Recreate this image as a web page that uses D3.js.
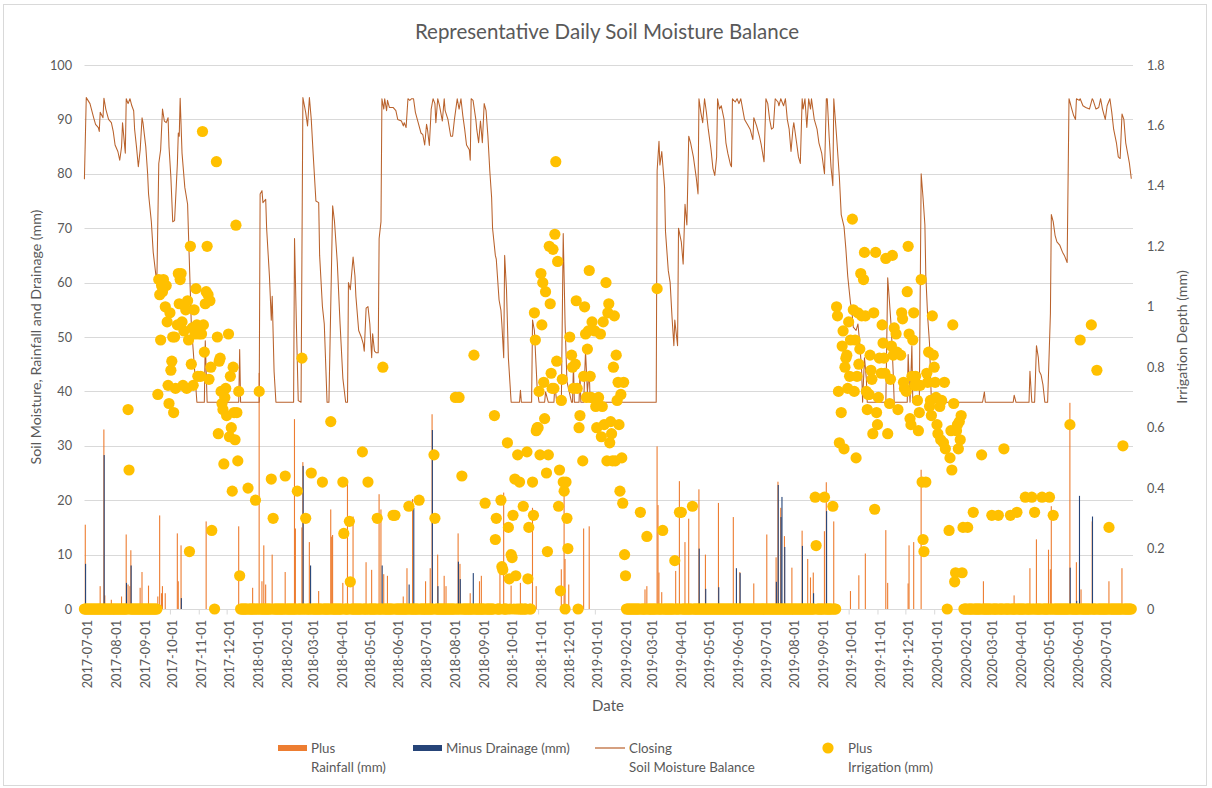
<!DOCTYPE html>
<html><head><meta charset="utf-8">
<script src="https://cdn.jsdelivr.net/npm/d3@7"></script>
<style>
body{margin:0;background:#fff;}
svg text{font-family:Lato,"Open Sans",sans-serif;fill:#595959;}
</style></head><body>
<svg id="chart" width="1212" height="788"></svg>
<script>
// ---------------- DATA ----------------
const chartTitle = "Representative Daily Soil Moisture Balance";
const leftAxisTitle = "Soil Moisture, Rainfall and Drainage (mm)";
const rightAxisTitle = "Irrigation Depth (mm)";
const xAxisTitle = "Date";
const leftTicks = [0,10,20,30,40,50,60,70,80,90,100];
const rightTicks = [0,0.2,0.4,0.6,0.8,1,1.2,1.4,1.6,1.8];
const dateTicks = ["2017-07-01","2017-08-01","2017-09-01","2017-10-01","2017-11-01","2017-12-01",
"2018-01-01","2018-02-01","2018-03-01","2018-04-01","2018-05-01","2018-06-01","2018-07-01","2018-08-01","2018-09-01","2018-10-01","2018-11-01","2018-12-01",
"2019-01-01","2019-02-01","2019-03-01","2019-04-01","2019-05-01","2019-06-01","2019-07-01","2019-08-01","2019-09-01","2019-10-01","2019-11-01","2019-12-01",
"2020-01-01","2020-02-01","2020-03-01","2020-04-01","2020-05-01","2020-06-01","2020-07-01"];
const dateDomain = ["2017-07-01","2020-07-31"];

// Closing soil moisture balance (mm), [date, value]
const soilMoisture = [
["2017-07-01",79],["2017-07-03",94],["2017-07-07",92.9],["2017-07-11",90.3],["2017-07-13",89.1],["2017-07-16",88.5],["2017-07-17",87.8],["2017-07-18",91.3],["2017-07-21",90.3],["2017-07-22",93.9],["2017-07-24",91.9],["2017-07-27",90],["2017-07-30",89.4],
["2017-08-01",87.8],["2017-08-03",85.3],["2017-08-06",84.1],["2017-08-08",82.5],["2017-08-10",85],["2017-08-11",89.4],["2017-08-14",83.8],["2017-08-15",93.8],["2017-08-17",92.9],["2017-08-19",93.8],["2017-08-21",92.5],["2017-08-23",91.6],["2017-08-24",88.2],["2017-08-26",85],["2017-08-28",81.3],["2017-08-30",84.4],
["2017-09-01",90.3],["2017-09-02",89.4],["2017-09-05",85],["2017-09-07",80],["2017-09-08",76.3],["2017-09-11",71.2],["2017-09-13",65.6],["2017-09-16",61.2],["2017-09-17",60.9],["2017-09-19",81.9],["2017-09-21",84.4],["2017-09-23",91.9],["2017-09-25",89.7],["2017-09-27",89.4],["2017-09-29",90.3],["2017-09-30",85],
["2017-10-02",79.4],["2017-10-04",71.2],["2017-10-06",71.4],["2017-10-09",81.9],["2017-10-10",87.5],["2017-10-11",86.9],["2017-10-12",93.9],["2017-10-14",83.8],["2017-10-17",77.5],["2017-10-20",74.4],["2017-10-21",68.7],["2017-10-24",52.4],["2017-10-30",38],
["2017-11-07",38],["2017-11-08",49.3],["2017-11-10",38],["2017-12-14",38],["2017-12-15",47.7],["2017-12-16",38],
["2018-01-05",38],["2018-01-06",76.3],["2018-01-08",76.9],["2018-01-09",74.7],["2018-01-12",75.3],["2018-01-13",70],["2018-01-16",61.2],["2018-01-18",53.1],["2018-01-19",57.5],["2018-01-21",43.7],["2018-01-23",38],
["2018-02-11",38],["2018-02-12",68.1],["2018-02-14",52.4],["2018-02-16",38.3],["2018-02-19",38],["2018-02-21",94],["2018-02-24",91.3],["2018-02-26",88.8],["2018-02-28",94],
["2018-03-02",90],["2018-03-04",83.8],["2018-03-07",75],["2018-03-10",74.7],["2018-03-11",65],["2018-03-14",55.6],["2018-03-16",52.4],["2018-03-19",38],["2018-03-21",38],["2018-03-25",74.1],["2018-03-27",71.2],["2018-03-30",63.7],
["2018-04-02",52.4],["2018-04-05",42.4],["2018-04-08",38],["2018-04-10",38],["2018-04-11",60],["2018-04-13",58.7],["2018-04-16",64.7],["2018-04-18",61.2],["2018-04-19",57.5],["2018-04-22",51.2],["2018-04-25",49.9],["2018-04-27",48.7],["2018-04-28",47.4],["2018-04-30",55.3],
["2018-05-02",55.6],["2018-05-04",52.4],["2018-05-06",46.2],["2018-05-07",50.6],["2018-05-09",47.4],["2018-05-11",47.1],["2018-05-13",47.1],["2018-05-14",68.1],["2018-05-16",71.2],["2018-05-17",93.8],["2018-05-19",91.9],["2018-05-20",93.8],["2018-05-22",91.6],["2018-05-23",93.5],["2018-05-25",92.2],["2018-05-29",92.2],
["2018-06-01",91.6],["2018-06-03",90],["2018-06-07",89.7],["2018-06-09",88.8],["2018-06-10",89.4],["2018-06-12",88.5],["2018-06-14",93.8],["2018-06-16",93.5],["2018-06-18",93.8],["2018-06-20",93.8],["2018-06-22",91.3],["2018-06-25",89.4],["2018-06-28",87.5],["2018-06-30",87.2],
["2018-07-02",85.3],["2018-07-04",89.1],["2018-07-05",88.2],["2018-07-07",85.2],["2018-07-09",91.9],["2018-07-11",93.8],["2018-07-13",92.9],["2018-07-14",89.4],["2018-07-16",93.8],["2018-07-18",92.5],["2018-07-21",89.7],["2018-07-23",93.8],["2018-07-24",91.6],["2018-07-27",90],["2018-07-30",86.9],
["2018-08-01",86.9],["2018-08-03",90],["2018-08-06",93.8],["2018-08-08",91.9],["2018-08-10",93.8],["2018-08-12",90.7],["2018-08-14",88.2],["2018-08-16",85.3],["2018-08-19",84.4],["2018-08-20",82.5],["2018-08-21",93.8],["2018-08-23",93.5],["2018-08-26",90],["2018-08-27",88.2],["2018-08-29",85.7],["2018-08-31",89.7],
["2018-09-02",85.7],["2018-09-04",92.9],["2018-09-06",91.6],["2018-09-08",86.9],["2018-09-10",80.6],["2018-09-12",75.6],["2018-09-13",70],["2018-09-16",65],["2018-09-17",64.3],["2018-09-20",56.8],["2018-09-22",54.9],["2018-09-23",52.4],["2018-09-25",46.2],["2018-09-26",65],["2018-09-28",58.7],["2018-09-30",46.2],
["2018-10-03",38],["2018-10-12",38],["2018-10-13",40.2],["2018-10-14",38],["2018-10-25",38],["2018-10-26",53.1],["2018-10-28",51.2],["2018-10-31",40.5],
["2018-11-02",38],["2018-11-08",38],["2018-11-09",39.9],["2018-11-12",38],["2018-11-18",38],["2018-11-19",41.2],["2018-11-21",38],["2018-11-26",38],["2018-11-28",69],["2018-11-30",52.4],
["2018-12-02",41.8],["2018-12-07",38],["2018-12-08",38],["2018-12-09",44.9],["2018-12-10",38],["2018-12-15",38],["2018-12-16",43],["2018-12-17",38],["2018-12-20",38],["2018-12-22",47.4],["2018-12-24",39.9],["2018-12-26",43.7],["2018-12-27",38],
["2019-03-08",38],["2019-03-09",80.6],["2019-03-11",86],["2019-03-12",81.6],["2019-03-14",84.1],["2019-03-17",77.5],["2019-03-18",69.4],["2019-03-21",62.2],["2019-03-23",60],["2019-03-25",53.7],["2019-03-27",48.4],["2019-03-28",53.1],["2019-03-31",48.4],
["2019-04-01",70],["2019-04-04",67.5],["2019-04-06",63.4],["2019-04-08",74.4],["2019-04-10",70.6],["2019-04-12",86.9],["2019-04-14",85.7],["2019-04-17",83.1],["2019-04-20",79.4],["2019-04-22",76.3],["2019-04-23",93.8],["2019-04-25",91.3],["2019-04-27",89.4],["2019-04-29",93.8],
["2019-05-01",91.3],["2019-05-03",88.2],["2019-05-06",84.4],["2019-05-08",81],["2019-05-10",79.7],["2019-05-12",83.1],["2019-05-13",93.8],["2019-05-15",91.9],["2019-05-17",92.5],["2019-05-20",90],["2019-05-22",85.7],["2019-05-24",83.8],["2019-05-27",81.6],["2019-05-28",81.3],["2019-05-29",93.8],
["2019-06-01",93.2],["2019-06-03",93.8],["2019-06-05",92.9],["2019-06-07",93.8],["2019-06-09",91.9],["2019-06-11",90],["2019-06-14",89.1],["2019-06-17",88.2],["2019-06-20",86.3],["2019-06-21",90.3],["2019-06-24",88.8],["2019-06-27",86.9],["2019-06-29",85.3],
["2019-07-02",82.2],["2019-07-04",93.8],["2019-07-06",92.9],["2019-07-08",90],["2019-07-10",88.2],["2019-07-12",88.5],["2019-07-14",93.8],["2019-07-17",93.2],["2019-07-18",92.5],["2019-07-20",93.8],["2019-07-23",92.5],["2019-07-25",93.8],["2019-07-27",90],["2019-07-29",88.2],["2019-07-31",84.1],
["2019-08-02",88.2],["2019-08-03",89.4],["2019-08-06",85.7],["2019-08-08",83.1],["2019-08-10",81.9],["2019-08-12",93.8],["2019-08-13",91.9],["2019-08-15",93.8],["2019-08-17",88.5],["2019-08-19",93.8],["2019-08-21",91.9],["2019-08-22",93.8],["2019-08-25",90],["2019-08-28",88.2],["2019-08-30",85.7],
["2019-09-02",83.8],["2019-09-05",80],["2019-09-07",93.8],["2019-09-08",93.8],["2019-09-10",86.9],["2019-09-12",81.3],["2019-09-14",77.8],["2019-09-15",93.8],["2019-09-18",86.9],["2019-09-21",79.4],["2019-09-23",72.5],["2019-09-26",70.3],["2019-09-28",66.2],["2019-09-30",61.2],
["2019-10-03",56.2],["2019-10-04",55.6],["2019-10-06",51.8],["2019-10-09",51.2],["2019-10-11",52.4],["2019-10-13",48.7],["2019-10-15",43.7],["2019-10-16",38],["2019-10-18",46.2],["2019-10-20",42.4],["2019-10-21",38],
["2019-11-10",38],["2019-11-12",60.9],["2019-11-14",56.2],["2019-11-16",51.2],["2019-11-18",43],["2019-11-19",38],
["2019-12-03",38],["2019-12-04",46.8],["2019-12-06",38],["2019-12-08",48.4],["2019-12-09",38],["2019-12-16",38],["2019-12-18",80],["2019-12-20",75.6],["2019-12-22",70.6],["2019-12-23",61.2],["2019-12-25",53.7],["2019-12-27",48.7],["2019-12-29",38],
["2020-02-22",38],["2020-02-24",39.9],["2020-02-25",38],["2020-03-26",38],["2020-03-27",39.3],["2020-03-29",38],
["2020-04-12",38],["2020-04-13",43.7],["2020-04-15",38],["2020-04-18",38],["2020-04-20",48.4],["2020-04-22",46.2],["2020-04-23",43.7],["2020-04-25",43],["2020-04-27",41.2],["2020-04-29",38],
["2020-05-02",38],["2020-05-05",54.3],["2020-05-06",72.5],["2020-05-08",71.2],["2020-05-10",68.7],["2020-05-12",67.5],["2020-05-15",66.9],["2020-05-18",65.6],["2020-05-20",65],["2020-05-23",63.7],["2020-05-25",93.8],["2020-05-26",93.2],["2020-05-28",91.9],["2020-05-30",90.7],
["2020-06-01",90],["2020-06-02",93.8],["2020-06-05",93.5],["2020-06-06",93.8],["2020-06-09",92.5],["2020-06-12",92.2],["2020-06-16",91.9],["2020-06-19",93.8],["2020-06-20",93.5],["2020-06-23",91.9],["2020-06-26",92.2],["2020-06-28",93.8],["2020-06-30",91.9],
["2020-07-03",90],["2020-07-05",92.5],["2020-07-08",93.8],["2020-07-10",91.3],["2020-07-12",88.2],["2020-07-15",85.7],["2020-07-17",83.1],["2020-07-19",82.8],["2020-07-21",91],["2020-07-23",90],["2020-07-25",85.7],["2020-07-27",83.8],["2020-07-29",81.9],["2020-07-31",79.1]
];

// Plus rainfall (mm), [date, value]
const rainfall = [
["2017-07-02",15.5],["2017-07-18",4.2],["2017-07-22",33],["2017-07-23",2.5],["2017-07-30",1.7],["2017-08-10",2.3],["2017-08-15",13.7],["2017-08-17",4.5],["2017-08-19",4.2],["2017-08-20",10.8],["2017-08-30",3.9],["2017-09-01",6.8],["2017-09-08",4.3],["2017-09-18",2.3],["2017-09-20",17.2],["2017-09-22",2.9],["2017-09-23",4.2],["2017-09-26",2.9],["2017-10-09",13.9],["2017-10-10",5.1],["2017-10-13",11.7],["2017-11-09",16.1],["2017-12-14",15.2],["2017-12-29",3.9],
["2018-01-05",43.4],["2018-01-08",5.1],["2018-01-10",11.7],["2018-01-12",4.5],["2018-01-19",10],["2018-02-02",6.8],["2018-02-12",34.9],["2018-02-13",14.8],["2018-02-20",15],["2018-02-21",27],["2018-02-28",12.3],["2018-03-10",3.3],["2018-03-23",18.3],["2018-03-24",13.3],["2018-03-25",13.6],["2018-04-05",4.8],["2018-04-10",23],["2018-04-16",17],["2018-04-30",8.6],["2018-05-06",7.2],["2018-05-14",21.1],["2018-05-16",18.3],["2018-05-19",6.4],["2018-05-23",6.1],["2018-06-09",2.3],["2018-06-13",7.5],["2018-06-19",20.2],["2018-07-03",5.1],["2018-07-08",7.5],["2018-07-10",35.8],["2018-07-16",10],["2018-07-23",6.1],["2018-07-25",4.2],["2018-08-07",13.9],["2018-08-09",8.3],["2018-08-20",2.9],["2018-08-30",5.1],["2018-09-01",6.1],["2018-09-21",8.6],["2018-09-25",21.4],["2018-10-03",4.3],["2018-10-13",4.8],["2018-10-26",18.6],["2018-10-30",4.2],["2018-11-26",7.3],["2018-11-29",23],["2018-11-30",9.2],["2018-12-04",4.5],["2018-12-20",14.8],["2018-12-26",15.2],
["2019-02-24",3.6],["2019-02-26",4.2],["2019-03-09",29.9],["2019-03-10",19.1],["2019-03-11",6.7],["2019-03-14",3.1],["2019-03-29",7],["2019-04-02",23.5],["2019-04-08",12.3],["2019-04-12",16.6],["2019-04-23",22],["2019-04-30",10],["2019-05-14",19.5],["2019-05-30",16.9],["2019-06-06",6.8],["2019-06-21",4.7],["2019-07-05",13.7],["2019-07-15",9.5],["2019-07-17",23.4],["2019-07-20",18.6],["2019-07-24",13.4],["2019-08-01",7.6],["2019-08-12",14.4],["2019-08-18",9.2],["2019-08-21",5.8],["2019-08-24",6.7],["2019-09-05",14.3],["2019-09-07",23.3],["2019-09-15",16.1],["2019-10-03",3.3],["2019-10-12",6.2],["2019-10-19",10.2],["2019-11-10",14.5],["2019-11-12",4.8],["2019-12-04",4.7],["2019-12-05",11.7],["2019-12-10",12.3],["2019-12-18",25.6],
["2020-02-23",5.1],["2020-03-27",2.5],["2020-04-13",7.5],["2020-04-20",12.8],["2020-05-03",10.9],["2020-05-05",7.3],["2020-05-06",18.9],["2020-05-26",37.9],["2020-06-02",8.6],["2020-06-07",3.6],["2020-06-19",16.1],["2020-07-07",5.1],["2020-07-21",7.5]
];

// Minus drainage (mm), [date, value]
const drainage = [
["2017-07-02",8.3],["2017-07-22",28.3],["2017-08-15",4.8],["2017-08-20",8],["2017-10-13",2],["2018-02-21",26.3],["2018-03-01",8],["2018-05-17",8],["2018-06-15",4.5],["2018-06-20",18.6],["2018-07-10",32.9],["2018-07-16",4.2],["2018-08-07",8.7],["2018-08-09",5.5],["2018-08-23",6.6],
["2019-04-23",11.1],["2019-04-30",3.7],["2019-05-14",4],["2019-06-02",7.5],["2019-06-06",6.6],["2019-07-15",5],["2019-07-17",22.8],["2019-07-20",16.9],["2019-07-21",20.6],["2019-07-24",11.4],["2019-08-12",11.6],["2019-08-24",2.9],["2019-09-07",18],
["2020-05-26",7.6],["2020-06-02",1.5],["2020-06-05",20.8],["2020-06-19",17]
];

// Plus irrigation (mm, right axis), [date, value] for days read individually
const irrigation = [
["2017-08-17",0.66],["2017-08-18",0.46],
["2017-09-18",0.71],["2017-09-19",1.09],["2017-09-20",1.04],["2017-09-21",0.89],["2017-09-22",1.07],["2017-09-23",1.05],["2017-09-24",1.09],["2017-09-26",1.00],["2017-09-27",1.07],["2017-09-28",0.95],["2017-09-29",0.74],["2017-09-30",0.68],
["2017-10-01",0.98],["2017-10-02",0.79],["2017-10-03",0.82],["2017-10-04",0.90],["2017-10-05",0.65],["2017-10-06",0.90],["2017-10-07",0.73],["2017-10-09",0.94],["2017-10-10",1.11],["2017-10-11",1.01],["2017-10-12",1.09],["2017-10-13",1.11],["2017-10-14",0.95],["2017-10-15",0.74],["2017-10-16",0.92],["2017-10-18",0.99],["2017-10-19",0.73],["2017-10-20",1.02],["2017-10-21",0.89],["2017-10-22",0.19],["2017-10-23",1.20],["2017-10-24",0.81],["2017-10-25",0.93],["2017-10-26",0.74],["2017-10-27",0.99],["2017-10-28",0.91],["2017-10-29",1.06],["2017-10-30",0.94],["2017-10-31",0.77],
["2017-11-01",0.91],["2017-11-02",0.93],["2017-11-03",0.77],["2017-11-04",0.91],["2017-11-05",1.58],["2017-11-06",0.94],["2017-11-07",0.85],["2017-11-08",1.01],["2017-11-09",1.05],["2017-11-10",1.20],["2017-11-11",1.04],["2017-11-12",0.76],["2017-11-13",1.02],["2017-11-14",0.80],["2017-11-15",0.26],["2017-11-18",0],["2017-11-20",1.48],["2017-11-21",0.90],["2017-11-22",0.58],["2017-11-23",0.82],["2017-11-24",0.83],["2017-11-25",0.72],["2017-11-26",0.68],["2017-11-27",0.66],["2017-11-28",0.48],["2017-11-29",0.70],["2017-11-30",0.73],
["2017-12-01",0.64],["2017-12-03",0.91],["2017-12-04",0.57],["2017-12-05",0.77],["2017-12-06",0.60],["2017-12-07",0.39],["2017-12-08",0.80],["2017-12-09",0.65],["2017-12-10",0.56],["2017-12-11",1.27],["2017-12-12",0.65],["2017-12-13",0.49],["2017-12-14",0.72],["2017-12-15",0.11],["2017-12-24",0.40],
["2018-01-01",0.36],["2018-01-05",0.72],["2018-01-18",0.43],["2018-01-20",0.30],["2018-02-02",0.44],["2018-02-15",0.39],["2018-02-20",0.83],["2018-02-24",0.30],["2018-03-02",0.45],["2018-03-14",0.42],["2018-03-23",0.62],["2018-04-05",0.42],["2018-04-06",0.25],["2018-04-12",0.29],["2018-04-13",0.09],["2018-04-26",0.52],["2018-05-02",0.42],["2018-05-12",0.30],["2018-05-18",0.80],["2018-05-29",0.31],["2018-05-31",0.31],["2018-06-15",0.34],["2018-06-26",0.36],["2018-07-12",0.51],["2018-07-13",0.30],["2018-08-04",0.70],["2018-08-08",0.70],["2018-08-11",0.44],["2018-08-24",0.84],["2018-09-05",0.35],["2018-09-15",0.64],["2018-09-16",0.23],["2018-09-17",0.30],["2018-09-22",0.36],["2018-09-23",0.14],["2018-09-24",0.13],["2018-09-29",0.55],["2018-09-30",0.27],
["2018-10-01",0.10],["2018-10-03",0.18],["2018-10-04",0.17],["2018-10-05",0.31],["2018-10-07",0.43],["2018-10-08",0.11],["2018-10-10",0.51],["2018-10-12",0.42],["2018-10-16",0.34],["2018-10-20",0.52],["2018-10-21",0.10],["2018-10-22",0.27],["2018-10-26",0.42],["2018-10-27",0.31],["2018-10-28",0.98],["2018-10-29",0.89],["2018-10-30",0.59],["2018-10-31",0.60],
["2018-11-01",0.60],["2018-11-02",0.72],["2018-11-03",0.51],["2018-11-04",1.11],["2018-11-05",0.94],["2018-11-06",1.08],["2018-11-07",0.75],["2018-11-08",0.63],["2018-11-09",1.05],["2018-11-10",0.45],["2018-11-11",0.19],["2018-11-12",0.51],["2018-11-13",1.20],["2018-11-14",1.01],["2018-11-15",0.78],["2018-11-16",0.73],["2018-11-17",1.19],["2018-11-18",0.73],["2018-11-19",1.24],["2018-11-20",1.48],["2018-11-21",0.82],["2018-11-22",1.15],["2018-11-23",0.34],["2018-11-24",0.46],["2018-11-25",0.06],["2018-11-26",0.69],["2018-11-27",0.76],["2018-11-28",0.42],["2018-11-29",0.39],["2018-11-30",0],
["2018-12-01",0.42],["2018-12-02",0.30],["2018-12-03",0.20],["2018-12-05",0.90],["2018-12-07",0.84],["2018-12-08",0.80],["2018-12-09",0.73],["2018-12-11",0.81],["2018-12-12",1.02],["2018-12-13",0.73],["2018-12-14",0],["2018-12-15",0.60],["2018-12-16",0.64],["2018-12-19",0.49],["2018-12-20",0.77],["2018-12-21",1.00],["2018-12-22",0.91],["2018-12-23",0.70],["2018-12-24",0.86],["2018-12-25",0.92],["2018-12-26",1.12],["2018-12-27",0.77],["2018-12-28",0.70],["2018-12-29",0.95],
["2019-01-01",0.92],["2019-01-02",0.67],["2019-01-03",0.60],["2019-01-05",0.70],["2019-01-07",0.91],["2019-01-08",0.57],["2019-01-09",0.67],["2019-01-10",0.95],["2019-01-11",0.61],["2019-01-13",1.08],["2019-01-14",0.49],["2019-01-15",0.98],["2019-01-16",1.01],["2019-01-17",0.55],["2019-01-18",0.62],["2019-01-19",0.58],["2019-01-20",0.49],["2019-01-21",0.80],["2019-01-22",0.97],["2019-01-23",0.49],["2019-01-24",0.84],["2019-01-25",0.69],["2019-01-26",0.75],["2019-01-27",0.61],["2019-01-28",0.39],["2019-01-29",0.71],["2019-01-30",0.50],["2019-01-31",0.35],["2019-02-01",0.75],["2019-02-02",0.18],["2019-02-03",0.11],
["2019-02-19",0.32],["2019-02-26",0.24],["2019-03-09",1.06],["2019-03-15",0.26],["2019-03-28",0.16],["2019-04-02",0.32],["2019-04-04",0.32],["2019-04-16",0.34],["2019-08-26",0.37],["2019-08-27",0.21],["2019-09-05",0.37],["2019-09-14",0.34],
["2019-09-18",1.00],["2019-09-19",0.97],["2019-09-20",0.72],["2019-09-21",0.55],["2019-09-23",0.65],["2019-09-24",0.87],["2019-09-25",0.92],["2019-09-26",0.53],["2019-09-27",0.80],["2019-09-28",0.83],["2019-09-29",0.84],["2019-09-30",0.73],
["2019-10-01",0.95],["2019-10-02",0.77],["2019-10-03",0.89],["2019-10-05",1.29],["2019-10-06",0.99],["2019-10-07",0.72],["2019-10-08",0.89],["2019-10-09",0.50],["2019-10-10",0.77],["2019-10-11",0.98],["2019-10-12",0.81],["2019-10-13",0.86],["2019-10-14",1.11],["2019-10-15",0.97],["2019-10-17",1.09],["2019-10-18",1.18],["2019-10-19",0.97],["2019-10-20",0.72],["2019-10-21",0.66],["2019-10-22",0.71],["2019-10-23",0.71],["2019-10-24",0.84],["2019-10-25",0.79],["2019-10-26",0.76],["2019-10-27",0.58],["2019-10-28",0.98],["2019-10-29",0.33],["2019-10-30",1.18],["2019-10-31",0.65],
["2019-11-01",0.61],["2019-11-02",0.70],["2019-11-03",0.83],["2019-11-05",0.78],["2019-11-06",0.94],["2019-11-07",0.88],["2019-11-08",0.83],["2019-11-09",0.78],["2019-11-10",1.16],["2019-11-12",0.58],["2019-11-14",0.68],["2019-11-15",0.76],["2019-11-16",0.87],["2019-11-17",1.17],["2019-11-18",0.84],["2019-11-19",0.93],["2019-11-21",0.91],["2019-11-22",0.85],["2019-11-23",0.66],["2019-11-26",0.84],["2019-11-27",0.98],["2019-11-28",0.96],["2019-11-29",0.75],["2019-11-30",0.73],
["2019-12-02",0.72],["2019-12-03",1.05],["2019-12-04",1.20],["2019-12-05",0.91],["2019-12-06",0.63],["2019-12-07",0.61],["2019-12-08",0.77],["2019-12-09",0.89],["2019-12-10",0.98],["2019-12-11",0.74],["2019-12-12",0.77],["2019-12-13",0.74],["2019-12-14",0.69],["2019-12-15",0.59],["2019-12-16",0.65],["2019-12-17",0.74],["2019-12-18",1.09],["2019-12-19",0.42],["2019-12-20",0.23],["2019-12-21",0.19],["2019-12-23",0.42],["2019-12-24",0.78],["2019-12-25",0.75],["2019-12-26",0.85],["2019-12-27",0.67],["2019-12-28",0.69],["2019-12-29",0.64],["2019-12-30",0.97],["2019-12-31",0.84],
["2020-01-01",0.80],["2020-01-02",0.75],["2020-01-03",0.70],["2020-01-04",0.61],["2020-01-05",0.58],["2020-01-07",0.67],["2020-01-08",0.56],["2020-01-09",0.69],["2020-01-11",0.55],["2020-01-12",0.75],["2020-01-13",0.53],["2020-01-15",0],["2020-01-17",0.26],["2020-01-18",0.50],["2020-01-19",0.59],["2020-01-20",0.46],["2020-01-21",0.94],["2020-01-22",0.68],["2020-01-23",0.09],["2020-01-24",0.12],["2020-01-25",0.59],["2020-01-26",0.61],["2020-01-27",0.53],["2020-01-28",0.62],["2020-01-29",0.56],["2020-01-30",0.64],["2020-01-31",0.12],
["2020-02-01",0.27],["2020-02-06",0.27],["2020-02-12",0.32],["2020-02-21",0.51],["2020-03-03",0.31],["2020-03-10",0.31],["2020-03-16",0.53],["2020-03-23",0.31],["2020-03-30",0.32],["2020-04-08",0.37],["2020-04-15",0.37],["2020-04-18",0.32],["2020-04-26",0.37],["2020-05-04",0.37],["2020-05-08",0.31],["2020-05-26",0.61],["2020-06-06",0.89],["2020-06-18",0.94],["2020-06-24",0.79],["2020-07-07",0.27],["2020-07-22",0.54]
];
// periods in which every other day had 0 mm irrigation
const irrigationZeroPeriods = [
["2017-07-01","2017-09-17"],["2017-12-14","2018-10-24"],["2019-02-01","2019-09-17"],["2020-01-30","2020-07-31"]
];

const legendItems = [
  {key:"rain", lines:["Plus","Rainfall (mm)"]},
  {key:"drain", lines:["Minus Drainage (mm)"]},
  {key:"line", lines:["Closing","Soil Moisture Balance"]},
  {key:"dot", lines:["Plus","Irrigation (mm)"]}
];

// ---------------- CHART ----------------
const colors = {rain:"#ED7D31", drain:"#264478", line:"#B9622C", dot:"#FFC000", grid:"#D9D9D9", text:"#595959"};
const parse = d3.utcParse("%Y-%m-%d");
const fmt = d3.utcFormat("%Y-%m-%d");
const svg = d3.select("#chart");

svg.append("rect").attr("x",3.5).attr("y",4.5).attr("width",1203).attr("height",781)
  .attr("fill","#fff").attr("stroke","#D9D9D9");

const x = d3.scaleUtc().domain(dateDomain.map(parse)).range([84.4,1131.3]);
const yL = d3.scaleLinear().domain([0,100]).range([609,65]);
const yR = d3.scaleLinear().domain([0,1.8]).range([609,65]);

// gridlines
svg.append("g").selectAll("line").data(leftTicks).join("line")
  .attr("x1",84.5).attr("x2",1133).attr("y1",d=>Math.round(yL(d))+0.5).attr("y2",d=>Math.round(yL(d))+0.5)
  .attr("stroke",colors.grid).attr("stroke-width",1);

// x axis
const xAxis = svg.append("g").attr("transform","translate(0,609.5)")
  .call(d3.axisBottom(x).tickValues(dateTicks.map(parse)).tickFormat(fmt).tickSize(5).tickSizeOuter(0));
xAxis.select(".domain").remove();
xAxis.selectAll(".tick line").attr("stroke",colors.grid);
xAxis.selectAll(".tick text").attr("transform","rotate(-90)").attr("x",-10.5).attr("y",0).attr("dy","0.55em")
  .style("text-anchor","end").style("font-size","12.7px").attr("fill",colors.text);

// left axis
const lAxis = svg.append("g").attr("transform","translate(85,0)")
  .call(d3.axisLeft(yL).tickValues(leftTicks).tickSize(0).tickPadding(13));
lAxis.select(".domain").remove();
lAxis.selectAll("text").style("font-size","12.7px").attr("fill",colors.text);

// right axis
const rAxis = svg.append("g").attr("transform","translate(1133,0)")
  .call(d3.axisRight(yR).tickValues(rightTicks).tickFormat(d=>String(d)).tickSize(0).tickPadding(14));
rAxis.select(".domain").remove();
rAxis.selectAll("text").style("font-size","12.7px").attr("fill",colors.text);

// bars
svg.append("g").selectAll("rect").data(rainfall).join("rect")
  .attr("x",d=>x(parse(d[0]))-0.6).attr("width",1.1)
  .attr("y",d=>yL(d[1])).attr("height",d=>yL(0)-yL(d[1]))
  .attr("fill",colors.rain);
svg.append("g").selectAll("rect").data(drainage).join("rect")
  .attr("x",d=>x(parse(d[0]))-0.3).attr("width",1.1)
  .attr("y",d=>yL(d[1])).attr("height",d=>yL(0)-yL(d[1]))
  .attr("fill",colors.drain);

// line
svg.append("path").datum(soilMoisture)
  .attr("d",d3.line().x(d=>x(parse(d[0]))).y(d=>yL(d[1])))
  .attr("fill","none").attr("stroke",colors.line).attr("stroke-width",1.05).attr("stroke-linejoin","round");

// irrigation points
const known = new Set(irrigation.map(d=>d[0]));
const irrPoints = [];
irrigationZeroPeriods.forEach(([a,b])=>{
  d3.utcDay.range(parse(a), d3.utcDay.offset(parse(b),1)).forEach(day=>{
    if(!known.has(fmt(day))) irrPoints.push([fmt(day),0]);
  });
});
irrigation.forEach(d=>irrPoints.push(d));
svg.append("g").selectAll("circle").data(irrPoints).join("circle")
  .attr("cx",d=>x(parse(d[0]))).attr("cy",d=>yR(d[1])).attr("r",5.6)
  .attr("fill",colors.dot);

// titles
svg.append("text").attr("x",607).attr("y",39).attr("text-anchor","middle")
  .style("font-size","20.5px").text(chartTitle);
svg.append("text").attr("transform","translate(40.5,337) rotate(-90)").attr("text-anchor","middle")
  .style("font-size","14.2px").text(leftAxisTitle);
svg.append("text").attr("transform","translate(1187,337) rotate(-90)").attr("text-anchor","middle")
  .style("font-size","14.2px").text(rightAxisTitle);
svg.append("text").attr("x",608).attr("y",711).attr("text-anchor","middle")
  .style("font-size","15px").text(xAxisTitle);

// legend
const legX = [278,413,595,822];
const leg = svg.append("g");
legendItems.forEach((it,i)=>{
  const g = leg.append("g").attr("transform",`translate(${legX[i]},748)`);
  let tx;
  if(it.key==="rain"||it.key==="drain"){
    g.append("rect").attr("x",0).attr("y",-3).attr("width",29).attr("height",6).attr("fill",colors[it.key]);
    tx = 33;
  } else if(it.key==="line"){
    g.append("line").attr("x1",0).attr("x2",30).attr("y1",0).attr("y2",0).attr("stroke",colors.line).attr("stroke-width",1.2);
    tx = 34;
  } else {
    g.append("circle").attr("cx",6).attr("cy",0).attr("r",5.6).attr("fill",colors.dot);
    tx = 26;
  }
  it.lines.forEach((t,j)=>{
    g.append("text").attr("x",tx).attr("y",4.5+j*19.5).style("font-size","13.3px").text(t);
  });
});
</script>
</body></html>
